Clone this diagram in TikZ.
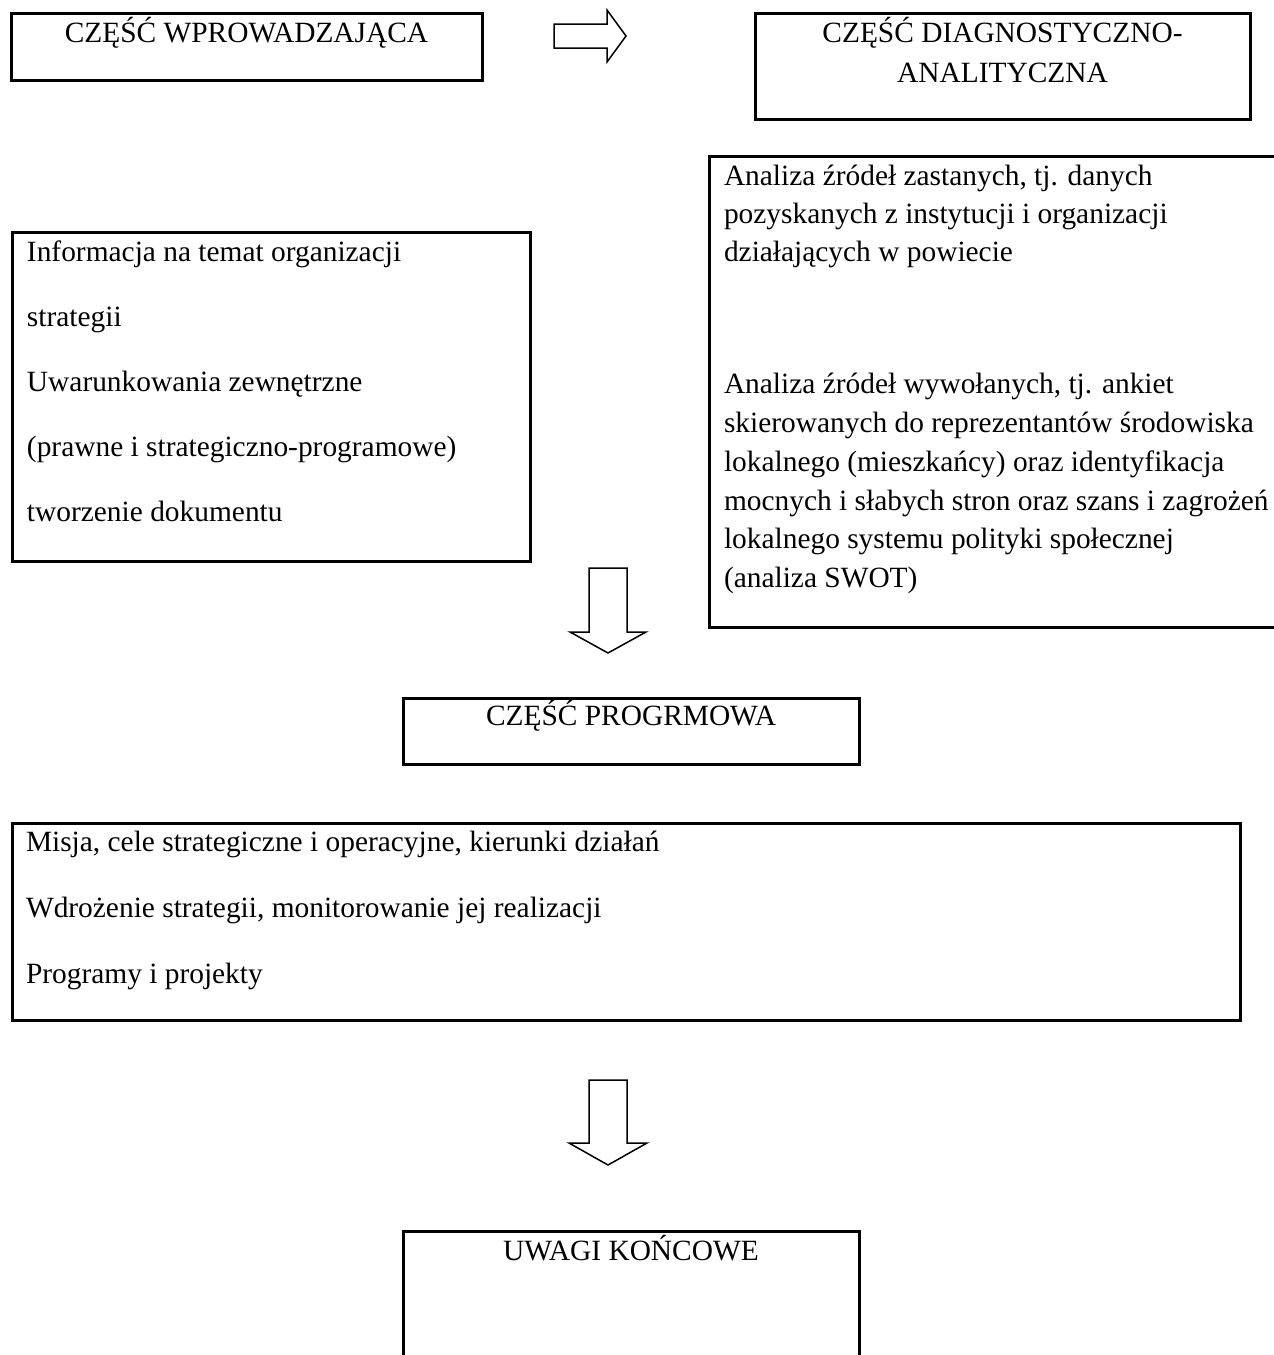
\documentclass[tikz,border=0pt]{standalone}
\usepackage{fontspec}
\setmainfont{Liberation Serif}
\tikzset{
  box/.style={draw, line width=3pt, inner sep=0pt, outer sep=0pt, anchor=north west},
  txt/.style={inner sep=0pt, outer sep=0pt, font=\fontsize{29.4}{38.6}\selectfont},
  blockarrow/.style={draw, line width=1.5pt, fill=white, line join=miter},
}
\begin{document}
\begin{tikzpicture}[x=1pt,y=-1pt]
\useasboundingbox (0,0) rectangle (1274,1355);

% boxes
\node[box, minimum width=471pt, minimum height=67pt] (b1) at (11,13) {};
\node[box, minimum width=495pt, minimum height=105.5pt] (b2) at (755,13.5) {};
\node[box, minimum width=518pt, minimum height=329pt] (b3) at (12,232) {};
\node[box, minimum width=600pt, minimum height=471pt] (b4) at (709,156) {};
\node[box, minimum width=456pt, minimum height=66pt] (b5) at (403,698) {};
\node[box, minimum width=1228pt, minimum height=197pt] (b6) at (12,823) {};
\node[box, minimum width=456pt, minimum height=200pt] (b7) at (403,1231) {};

% titles
\node[txt, anchor=base] (t1) at (246.5,42) {CZĘŚĆ WPROWADZAJĄCA};
\node[txt, anchor=base] (t2a) at (1002.5,42) {CZĘŚĆ DIAGNOSTYCZNO-};
\node[txt, anchor=base] (t2b) at (1002.5,82) {ANALITYCZNA};
\node[txt, anchor=base] (t5) at (631,725) {CZĘŚĆ PROGRMOWA};
\node[txt, anchor=base] (t7) at (631,1260) {UWAGI KOŃCOWE};

% box 3 lines
\node[txt, anchor=base west] (t3a) at (27,261) {Informacja na temat organizacji};
\node[txt, anchor=base west] (t3b) at (27,326) {strategii};
\node[txt, anchor=base west] (t3c) at (27,391) {Uwarunkowania zewnętrzne};
\node[txt, anchor=base west] (t3d) at (27,456) {(prawne i strategiczno-programowe)};
\node[txt, anchor=base west] (t3e) at (27,521) {tworzenie dokumentu};

% box 4 lines
\node[txt, anchor=base west] (t4a) at (724,185) {Analiza źródeł zastanych, tj. danych};
\node[txt, anchor=base west] (t4b) at (724,223) {pozyskanych z instytucji i organizacji};
\node[txt, anchor=base west] (t4c) at (724,261) {działających w powiecie};
\node[txt, anchor=base west] (t4d) at (724,393) {Analiza źródeł wywołanych, tj. ankiet};
\node[txt, anchor=base west] (t4e) at (724,432) {skierowanych do reprezentantów środowiska};
\node[txt, anchor=base west] (t4f) at (724,471) {lokalnego (mieszkańcy) oraz identyfikacja};
\node[txt, anchor=base west] (t4g) at (724,510) {mocnych i słabych stron oraz szans i zagrożeń};
\node[txt, anchor=base west] (t4h) at (724,548) {lokalnego systemu polityki społecznej};
\node[txt, anchor=base west] (t4i) at (724,587) {(analiza SWOT)};

% box 6 lines
\node[txt, anchor=base west] (t6a) at (26,851) {Misja, cele strategiczne i operacyjne, kierunki działań};
\node[txt, anchor=base west] (t6b) at (26,917) {Wdrożenie strategii, monitorowanie jej realizacji};
\node[txt, anchor=base west] (t6c) at (26,983) {Programy i projekty};

% block arrows
\draw[blockarrow] (554,24) -- (607,24) -- (607,10) -- (626,36) -- (607,62) -- (607,48) -- (554,48) -- cycle;
\draw[blockarrow] (589,568) -- (627,568) -- (627,632) -- (646,632) -- (608,653) -- (570,632) -- (589,632) -- cycle;
\draw[blockarrow] (589,1080) -- (627,1080) -- (627,1143) -- (647,1143) -- (608,1165) -- (569,1143) -- (589,1143) -- cycle;
\end{tikzpicture}
\end{document}
